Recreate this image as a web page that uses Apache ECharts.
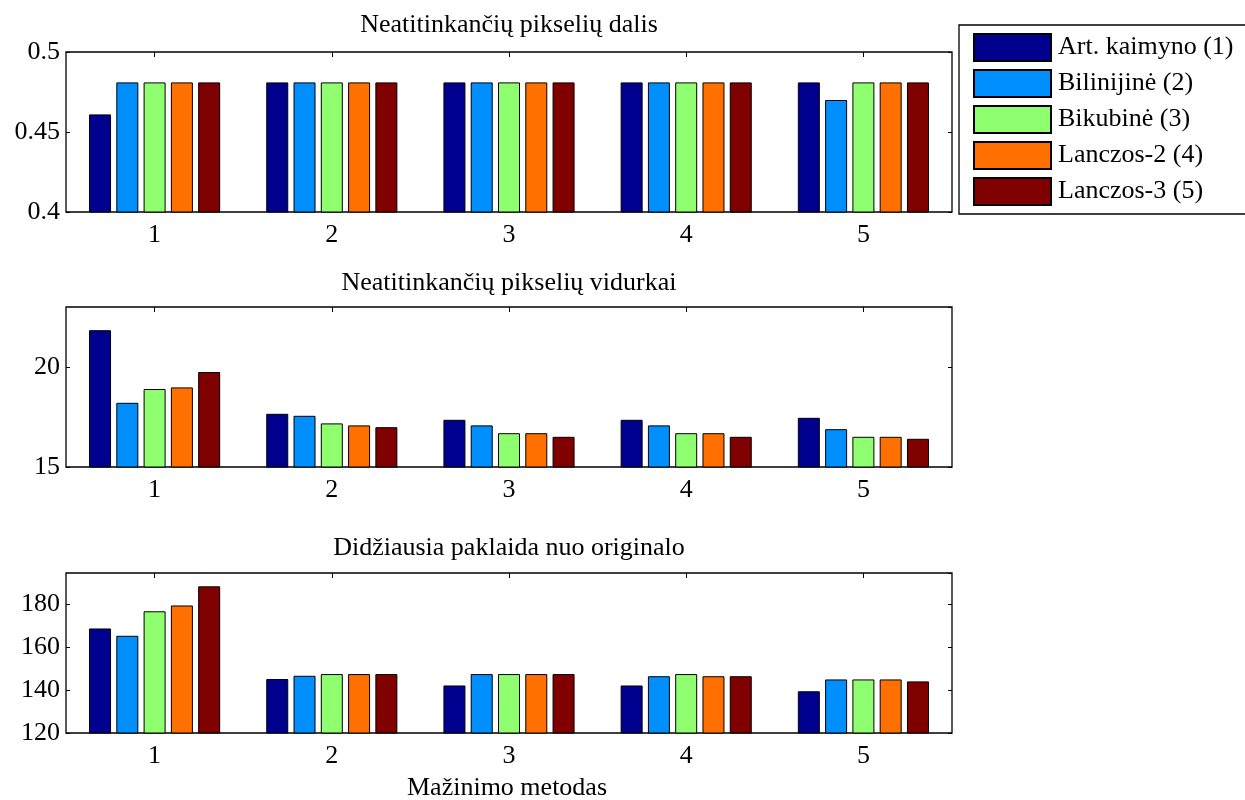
<!DOCTYPE html>
<html>
<head>
<meta charset="utf-8">
<script src="https://cdn.jsdelivr.net/npm/echarts@6/dist/echarts.min.js"></script>
<style>html,body{margin:0;padding:0;background:#fff}#c{width:1245px;height:800px}</style>
</head>
<body>
<div id="c"></div>
<script>
const categories = ['1', '2', '3', '4', '5'];
const seriesNames = ['Art. kaimyno (1)', 'Bilinijinė (2)', 'Bikubinė (3)', 'Lanczos-2 (4)', 'Lanczos-3 (5)'];
const colors = ['#00008F', '#008FFF', '#8FFF70', '#FF7000', '#800000'];
const titles = ['Neatitinkančių pikselių dalis', 'Neatitinkančių pikselių vidurkai', 'Didžiausia paklaida nuo originalo'];
const xLabel = 'Mažinimo metodas';

// Plot 1: Neatitinkančių pikselių dalis
const dalisArt  = [0.461, 0.481, 0.481, 0.481, 0.481];
const dalisBil  = [0.481, 0.481, 0.481, 0.481, 0.470];
const dalisBic  = [0.481, 0.481, 0.481, 0.481, 0.481];
const dalisLan2 = [0.481, 0.481, 0.481, 0.481, 0.481];
const dalisLan3 = [0.481, 0.481, 0.481, 0.481, 0.481];

// Plot 2: Neatitinkančių pikselių vidurkai
const vidArt  = [21.84, 17.66, 17.36, 17.36, 17.46];
const vidBil  = [18.21, 17.56, 17.08, 17.08, 16.89];
const vidBic  = [18.90, 17.18, 16.69, 16.69, 16.51];
const vidLan2 = [18.98, 17.08, 16.69, 16.69, 16.51];
const vidLan3 = [19.75, 16.99, 16.51, 16.51, 16.41];

// Plot 3: Didžiausia paklaida nuo originalo
const pakArt  = [168.6, 145.1, 142.1, 142.1, 139.4];
const pakBil  = [165.2, 146.6, 147.4, 146.4, 144.9];
const pakBic  = [176.6, 147.4, 147.4, 147.4, 144.9];
const pakLan2 = [179.3, 147.4, 147.4, 146.4, 144.9];
const pakLan3 = [188.2, 147.4, 147.4, 146.4, 144.0];

const yRanges = [
  {min: 0.4, max: 0.5, interval: 0.05},
  {min: 15, max: 23, interval: 5},
  {min: 120, max: 194.4, interval: 20}
];
const plotData = [
  [dalisArt, dalisBil, dalisBic, dalisLan2, dalisLan3],
  [vidArt, vidBil, vidBic, vidLan2, vidLan3],
  [pakArt, pakBil, pakBic, pakLan2, pakLan3]
];

const FONT = 'Liberation Serif';
const gridTops = [52, 307, 573];
const gridH = 160;
const gridLeft = 66, gridRight = 293;

const grids = [], xAxes = [], yAxes = [], series = [];
for (let p = 0; p < 3; p++) {
  grids.push({left: gridLeft, right: gridRight, top: gridTops[p], height: gridH,
    show: true, borderColor: '#000', borderWidth: 1.3, backgroundColor: '#fff'});
  xAxes.push({type: 'category', gridIndex: p, data: categories, position: 'bottom',
    axisLine: {show: false}, axisTick: {show: true, inside: true, alignWithLabel: true, length: 5, lineStyle: {color: '#000'}},
    axisLabel: {fontFamily: FONT, fontSize: 26, color: '#000', margin: 10}});
  xAxes.push({type: 'category', gridIndex: p, data: categories, position: 'top',
    axisLine: {show: false}, axisTick: {show: true, inside: true, alignWithLabel: true, length: 5, lineStyle: {color: '#000'}},
    axisLabel: {show: false}});
  const r = yRanges[p];
  yAxes.push({type: 'value', gridIndex: p, position: 'left', min: r.min, max: r.max, interval: r.interval,
    axisLine: {show: false}, splitLine: {show: false},
    axisTick: {show: true, inside: true, length: 4, lineStyle: {color: '#000'}},
    axisLabel: {fontFamily: FONT, fontSize: 26, color: '#000', margin: 6, showMaxLabel: p === 0}});
  yAxes.push({type: 'value', gridIndex: p, position: 'right', min: r.min, max: r.max, interval: r.interval,
    axisLine: {show: false}, splitLine: {show: false},
    axisTick: {show: true, inside: true, length: 4, lineStyle: {color: '#000'}},
    axisLabel: {show: false}});
  for (let s = 0; s < 5; s++) {
    series.push({type: 'bar', name: seriesNames[s], xAxisIndex: p * 2, yAxisIndex: p * 2,
      data: plotData[p][s], barGap: '24%', barCategoryGap: '26%',
      itemStyle: {color: colors[s], borderColor: '#000', borderWidth: 1},
      emphasis: {disabled: true}, animation: false});
  }
}

const chart = echarts.init(document.getElementById('c'), null, {renderer: 'canvas'});
chart.setOption({
  animation: false,
  backgroundColor: '#fff',
  grid: grids,
  xAxis: xAxes,
  yAxis: yAxes,
  series: series,
  legend: {
    data: seriesNames,
    orient: 'vertical',
    left: 959, top: 25,
    padding: [8, 40, 8, 14],
    itemWidth: 77, itemHeight: 27, itemGap: 7,
    icon: 'rect',
    borderColor: '#000', borderWidth: 1.3, backgroundColor: '#fff',
    textStyle: {fontFamily: FONT, fontSize: 26, lineHeight: 27, color: '#000', padding: [0, 0, 0, 2]},
    selectedMode: false
  },
  graphic: [
    {type: 'text', x: 509, y: 25, style: {text: titles[0], font: '26px "Liberation Serif"', fill: '#000', textAlign: 'center', textVerticalAlign: 'middle'}},
    {type: 'text', x: 509, y: 283, style: {text: titles[1], font: '26px "Liberation Serif"', fill: '#000', textAlign: 'center', textVerticalAlign: 'middle'}},
    {type: 'text', x: 509, y: 548, style: {text: titles[2], font: '26px "Liberation Serif"', fill: '#000', textAlign: 'center', textVerticalAlign: 'middle'}},
    {type: 'text', x: 507, y: 788, style: {text: xLabel, font: '26px "Liberation Serif"', fill: '#000', textAlign: 'center', textVerticalAlign: 'middle'}}
  ]
});
</script>
</body>
</html>
